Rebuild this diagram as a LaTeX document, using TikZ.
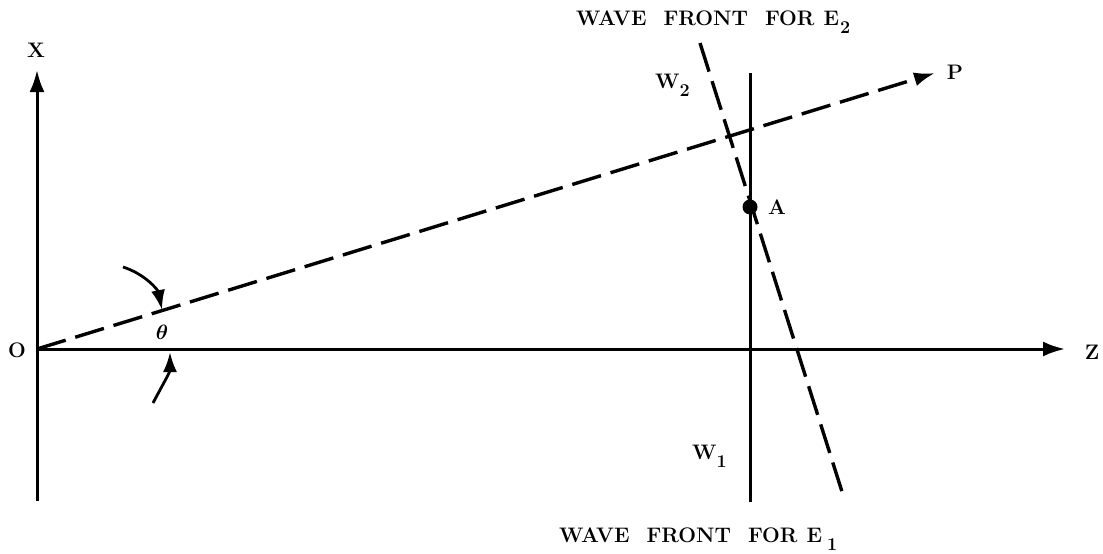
\documentclass[tikz,border=0pt]{standalone}
\usetikzlibrary{arrows.meta}
\newcommand{\lowsub}[1]{\raisebox{-8.5pt}{\fontsize{18}{20}\selectfont #1}}
\begin{document}
\begin{tikzpicture}[x=1pt,y=-1pt,
  lbl/.style={font=\fontsize{21}{24}\selectfont\bfseries, inner sep=0pt},
  thlbl/.style={font=\fontsize{21}{24}\selectfont\boldmath, inner sep=0pt},
  axisline/.style={line width=3pt, -{Latex[length=22pt,width=15pt]}},
  solidline/.style={line width=3pt},
  dashline/.style={line width=3.4pt, dash pattern=on 30pt off 10pt},
  anglearrow/.style={line width=2.8pt, -{Latex[length=20pt,width=14pt]}}]
\useasboundingbox (0,0) rectangle (1103,554);
% coordinates
\coordinate (O) at (37,349);
\coordinate (Xtop) at (37,70);
\coordinate (Xbot) at (37,501);
\coordinate (Zend) at (1065,349);
\coordinate (Ptip) at (935,73);
\coordinate (W1top) at (750,73);
\coordinate (W1bot) at (750,502);
\coordinate (W2top) at (700,43);
\coordinate (W2bot) at (844,498);
\coordinate (t1s) at (123,267);
\coordinate (t1e) at (162,310);
\coordinate (t2s) at (153,403);
\coordinate (t2e) at (170,352);
% axes
\draw[axisline] (Xbot) -- (Xtop);
\draw[axisline] (O) -- (Zend);
% ray OP
\draw[dashline, -{Latex[length=21pt,width=14pt]}] (O) -- (Ptip);
% wave fronts
\draw[solidline] (W1bot) -- (W1top);
\draw[dashline] (W2top) -- (W2bot);
\node[circle, fill, inner sep=0pt, minimum size=15pt] (A) at (750,207) {};
% angle arrows
\draw[anglearrow] (t1s) .. controls (145,274) and (158,290) .. (t1e);
\draw[anglearrow] (t2s) .. controls (162,386) and (170,372) .. (t2e);
% labels
\node[lbl] (lX) at (36,50) {X};
\node[lbl] (lO) at (17,350) {O};
\node[lbl] (lZ) at (1092,352) {Z};
\node[lbl] (lP) at (955,72) {P};
\node[lbl] (lA) at (777,207) {A};
\node[thlbl] (lth) at (162,332) {$\theta$};
\node[lbl, anchor=base west] (lW2) at (655,88) {W\lowsub{2}};
\node[lbl, anchor=base west] (lW1) at (692,459) {W\lowsub{1}};
\node[lbl, anchor=base west] (lE2) at (576,25) {WAVE\hspace{17pt}FRONT\hspace{17pt}FOR\hspace{9pt}E\hspace{1pt}\lowsub{2}};
\node[lbl, anchor=base west] (lE1) at (559,542) {WAVE\hspace{17pt}FRONT\hspace{17pt}FOR\hspace{9pt}E\hspace{5pt}\lowsub{1}};
\end{tikzpicture}
\end{document}
